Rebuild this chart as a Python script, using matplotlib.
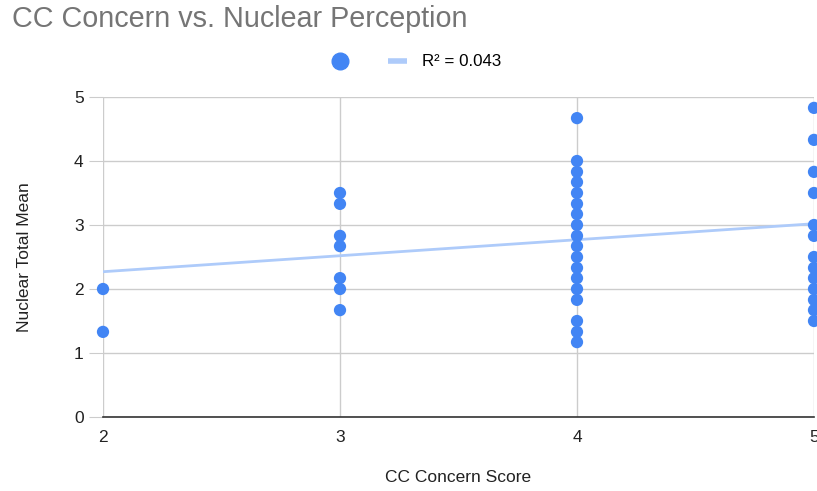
import numpy as np
import matplotlib.pyplot as plt
from matplotlib.lines import Line2D

plt.rcParams['font.family'] = ['Liberation Sans', 'DejaVu Sans']

# CC concern score (x) and nuclear total mean (y)
x2 = [2, 2]
y2 = [2.0, 1.33]
x3 = [3] * 7
y3 = [3.5, 3.33, 2.83, 2.67, 2.17, 2.0, 1.67]
x4 = [4] * 18
y4 = [4.67, 4.0, 3.83, 3.67, 3.5, 3.33, 3.17, 3.0, 2.83, 2.67, 2.5, 2.33, 2.17, 2.0, 1.83, 1.5, 1.33, 1.17]
x5 = [5] * 13
y5 = [4.83, 4.33, 3.83, 3.5, 3.0, 2.83, 2.5, 2.33, 2.17, 2.0, 1.83, 1.67, 1.5]

cc_score = x2 + x3 + x4 + x5
nuclear_mean = y2 + y3 + y4 + y5

# trendline ends
trend_x = [2, 5]
trend_y = [2.27, 3.02]
r2_label = "R² = 0.043"

x_ticks = [2, 3, 4, 5]
y_ticks = [0, 1, 2, 3, 4, 5]

dot_color = "#4285F4"
trend_color = "#AECBFA"
grid_color = "#CCCCCC"

fig = plt.figure(figsize=(8.17, 4.91), dpi=100)
ax = fig.add_axes([103 / 817, 1 - 417 / 491, (814 - 103) / 817, (417 - 97) / 491])

ax.plot(trend_x, trend_y, color=trend_color, lw=2, zorder=2)
ax.scatter(cc_score, nuclear_mean, s=78, color=dot_color, edgecolors='none', zorder=3, clip_on=False)

ax.set_xlim(2, 5)
ax.set_ylim(0, 5)
ax.set_xticks(x_ticks)
ax.set_yticks(y_ticks)
ax.grid(True, color=grid_color, lw=1)
ax.set_axisbelow(True)
for s in ['top', 'right', 'left']:
    ax.spines[s].set_visible(False)
ax.spines['bottom'].set_color('#333333')
ax.spines['bottom'].set_linewidth(1.2)
ax.spines['bottom'].set_zorder(4)

ax.tick_params(axis='y', length=10, color=grid_color, labelsize=12.5, pad=4, labelcolor='#222222')
ax.tick_params(axis='x', length=0, labelsize=12.5, pad=9, labelcolor='#222222')

ax.set_xlabel("CC Concern Score", fontsize=12.5, color='#222222', labelpad=18)
ax.set_ylabel("Nuclear Total Mean", fontsize=12.5, color='#222222', labelpad=30)

fig.text(12 / 817, 1 - 19 / 491, "CC Concern vs. Nuclear Perception", fontsize=20.7,
         color='#757575', ha='left', va='center')

handles = [
    Line2D([], [], ls='none', marker='o', markersize=12, color=dot_color, label=' '),
    Line2D([], [], color=trend_color, lw=4, solid_capstyle='butt', label=r2_label),
]
fig.legend(handles=handles, loc='center', bbox_to_anchor=(416 / 817, 1 - 62 / 491), ncol=2,
           frameon=False, fontsize=12.2, handlelength=1.1, columnspacing=1.15, handletextpad=0.9)

fig.savefig("out.png", dpi=100)
